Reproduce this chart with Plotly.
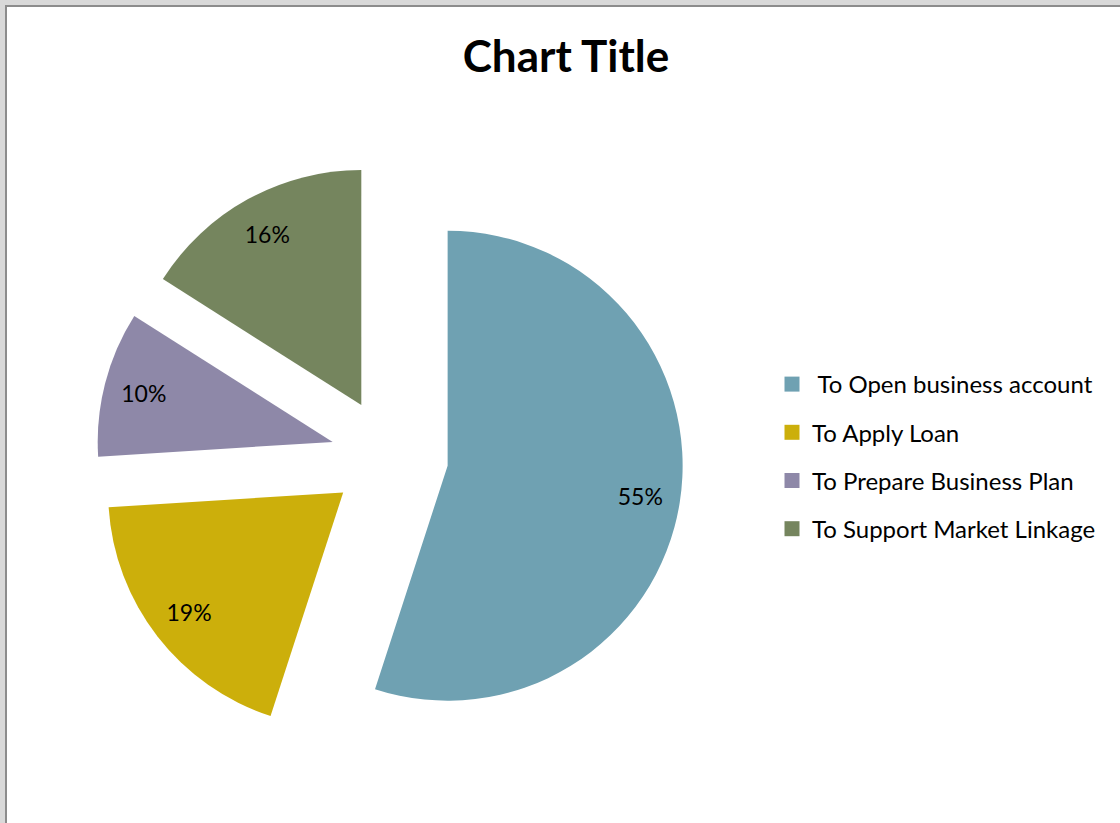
import plotly.graph_objects as go

categories = [" To Open business account", "To Apply Loan", "To Prepare Business Plan", "To Support Market Linkage"]
values = [55, 19, 10, 16]
colors = ["#6FA1B2", "#CCAF0B", "#8E88A8", "#75855E"]
title_text = "Chart Title"

W, H = 1120, 823
FONT = "Lato, 'Open Sans', sans-serif"
DOMAIN = dict(x=[95.85 / W, 683.35 / W], y=[1 - 750.25 / H, 1 - 162.75 / H])
PULL = [0.25] * len(values)

fig = go.Figure()
# coloured slices
fig.add_trace(go.Pie(
    labels=categories, values=values, sort=False, direction="clockwise", rotation=0,
    pull=PULL, marker=dict(colors=colors, line=dict(width=0)),
    textinfo="none", showlegend=False, hoverinfo="label+percent", domain=DOMAIN,
))
# transparent ring carrying the percentage labels (places them near the outer edge)
fig.add_trace(go.Pie(
    labels=categories, values=values, sort=False, direction="clockwise", rotation=0,
    pull=PULL, hole=0.66,
    marker=dict(colors=["rgba(0,0,0,0)"] * len(values), line=dict(width=0)),
    textinfo="percent", texttemplate="%{percent:.0%}", textposition="inside",
    insidetextorientation="horizontal",
    textfont=dict(family=FONT, size=23, color="black"),
    showlegend=False, hoverinfo="skip", domain=DOMAIN,
))

for i, (cat, col) in enumerate(zip(categories, colors)):
    fig.add_trace(go.Scatter(
        x=[None], y=[None], mode="markers", name=cat,
        marker=dict(symbol="square", size=15, color=col),
        legendgroup=f"g{i}", showlegend=True,
    ))

fig.update_layout(
    width=W, height=H,
    margin=dict(l=0, r=0, t=0, b=0),
    paper_bgcolor="white", plot_bgcolor="white",
    uniformtext=dict(minsize=23, mode="show"),
    title=dict(text=f"<b>{title_text}</b>", x=566 / W, xanchor="center",
               y=1 - 57 / H, yanchor="middle", yref="container",
               font=dict(family=FONT, size=44, color="black")),
    xaxis=dict(visible=False), yaxis=dict(visible=False),
    legend=dict(x=772 / W, xanchor="left", y=1 - 362 / H, yanchor="top",
                font=dict(family=FONT, size=24, color="black"),
                tracegroupgap=14, bgcolor="rgba(0,0,0,0)", itemclick=False),
    shapes=[
        dict(type="rect", xref="paper", yref="paper", x0=0, x1=6 / W, y0=0, y1=1,
             fillcolor="#d9d9d9", line=dict(width=0), layer="above"),
        dict(type="rect", xref="paper", yref="paper", x0=0, x1=1, y0=1 - 5 / H, y1=1,
             fillcolor="#d9d9d9", line=dict(width=0), layer="above"),
        dict(type="rect", xref="paper", yref="paper", x0=5 / W, x1=7 / W, y0=0, y1=1 - 5 / H,
             fillcolor="#8c8c8c", line=dict(width=0), layer="above"),
        dict(type="rect", xref="paper", yref="paper", x0=5 / W, x1=1, y0=1 - 7 / H, y1=1 - 5 / H,
             fillcolor="#8c8c8c", line=dict(width=0), layer="above"),
    ],
)

fig.write_html("out.html", config={"displayModeBar": False},
               post_script="document.body.style.margin='0px';")
